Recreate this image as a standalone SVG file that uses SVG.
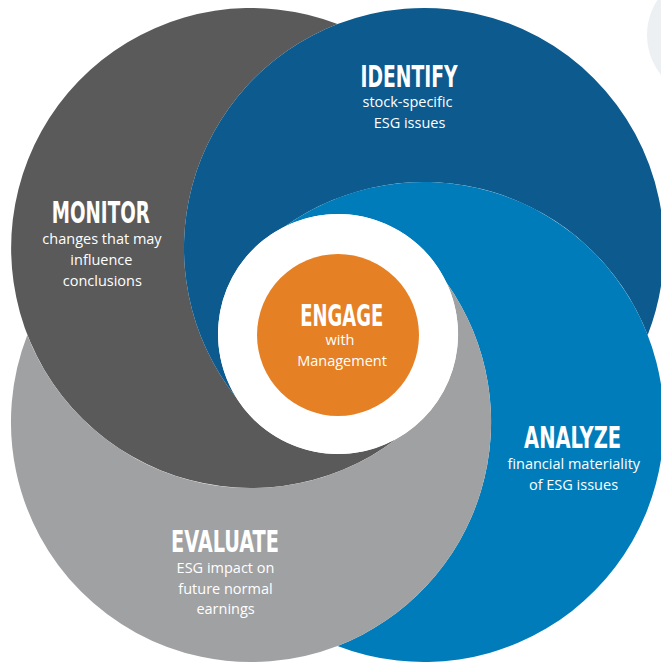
<svg xmlns="http://www.w3.org/2000/svg" width="661" height="664" viewBox="0 0 661 664">
<style>
.title{font-family:"DejaVu Sans Condensed","DejaVu Sans",sans-serif;font-weight:bold;font-size:30px;fill:#ffffff;text-anchor:middle}
.sub{font-family:"Open Sans","Noto Sans",sans-serif;font-size:14.5px;fill:#ffffff;text-anchor:middle}
</style>
<rect x="0" y="0" width="661" height="664" fill="#ffffff"/>
<circle cx="711" cy="35" r="64" fill="#edf0f3"/>
<g id="monitor">
<path d="M337.5,24.1 A240,240 0 1 0 397,438.6 A120,120 0 0 1 236,397.2 A240,240 0 0 1 337.5,24.1 Z" fill="#5a5a5a"/>
<text class="title" x="100.8" y="223.3" textLength="98" lengthAdjust="spacingAndGlyphs">MONITOR</text>
<text class="sub" x="102" y="243.5">changes that may</text>
<text class="sub" x="101.4" y="264.5">influence</text>
<text class="sub" x="102.3" y="285.5">conclusions</text>
</g>
<g id="identify">
<path d="M337.5,24.1 A240,240 0 0 1 647.7,335 A240,240 0 0 0 285.1,226.3 A120,120 0 0 0 236,397.2 A240,240 0 0 1 337.5,24.1 Z" fill="#0c5a8e"/>
<text class="title" x="409" y="87.3" textLength="97" lengthAdjust="spacingAndGlyphs">IDENTIFY</text>
<text class="sub" x="407.5" y="106.7">stock-specific</text>
<text class="sub" x="409.5" y="127.7">ESG issues</text>
</g>
<g id="analyze">
<path d="M285.1,226.3 A240,240 0 1 1 337.5,645.9 A240,240 0 0 0 446.6,282.8 A120,120 0 0 0 285.1,226.3 Z" fill="#007cba"/>
<text class="title" x="572.6" y="447.7" textLength="97" lengthAdjust="spacingAndGlyphs">ANALYZE</text>
<text class="sub" x="573.8" y="469.3">financial materiality</text>
<text class="sub" x="573.5" y="490.3">of ESG issues</text>
</g>
<g id="evaluate">
<path d="M337.5,645.9 A240,240 0 0 1 27.3,335 A240,240 0 0 0 397,438.6 A120,120 0 0 0 446.6,282.8 A240,240 0 0 1 337.5,645.9 Z" fill="#a0a1a3"/>
<text class="title" x="225" y="552" textLength="108" lengthAdjust="spacingAndGlyphs">EVALUATE</text>
<text class="sub" x="225.5" y="572.5">ESG impact on</text>
<text class="sub" x="225.5" y="593.5">future normal</text>
<text class="sub" x="225.6" y="614.3">earnings</text>
</g>
<g id="engage">
<circle cx="338" cy="334" r="120" fill="#ffffff"/>
<circle cx="338" cy="335" r="81" fill="#e58025"/>
<text class="title" x="341.7" y="326" textLength="83" lengthAdjust="spacingAndGlyphs">ENGAGE</text>
<text class="sub" x="340" y="345">with</text>
<text class="sub" x="342" y="366">Management</text>
</g>
<g id="connectors"/>
</svg>
